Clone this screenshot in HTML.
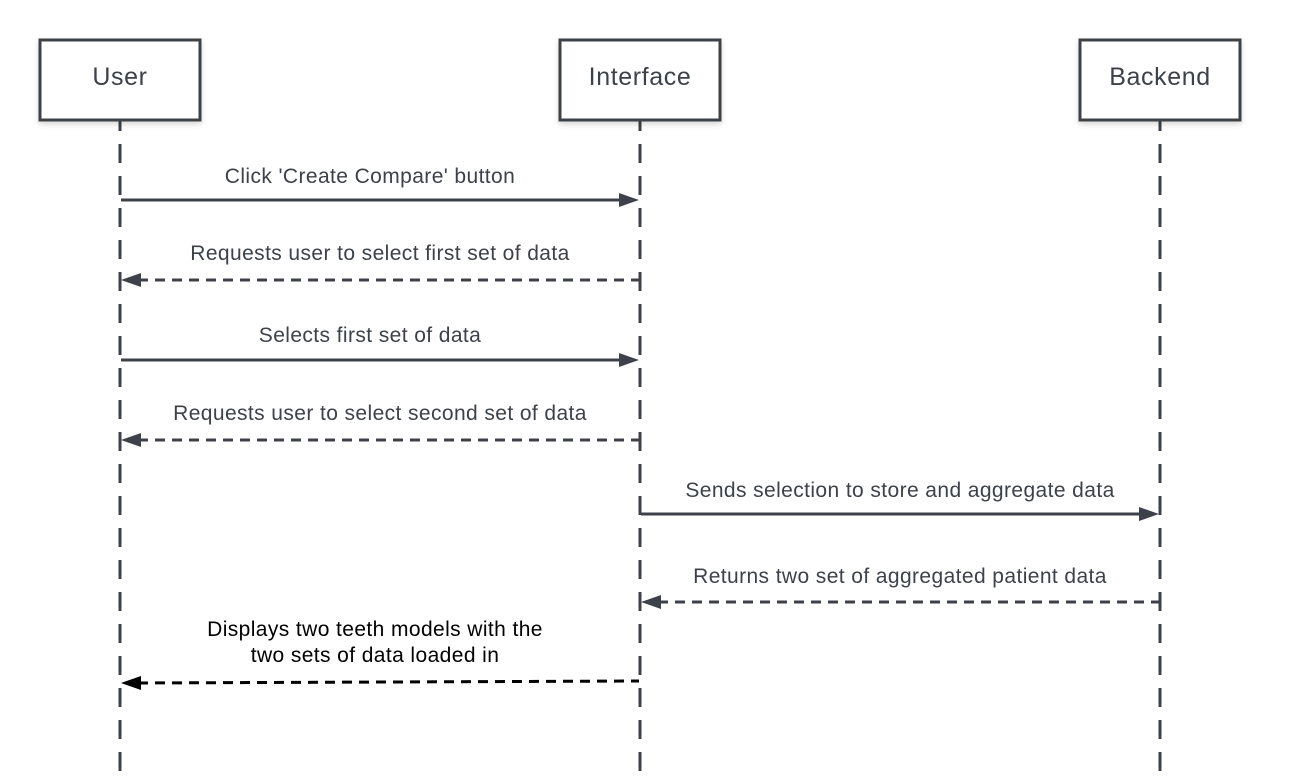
<!DOCTYPE html>
<html><head><meta charset="utf-8"><style>
html,body{margin:0;padding:0;background:#fff;}
svg{display:block;}
text{font-family:"Liberation Sans",sans-serif;}
</style></head><body>
<svg width="1292" height="784" viewBox="0 0 1292 784" xmlns="http://www.w3.org/2000/svg">
<defs>
<filter id="sh" x="-10%" y="-10%" width="130%" height="130%"><feDropShadow dx="0" dy="3" stdDeviation="3" flood-color="#000" flood-opacity="0.15"/></filter>
</defs>
<g stroke="#3d424a" stroke-width="3" stroke-dasharray="19 13" fill="none">
<line x1="120" y1="112" x2="120" y2="784"/>
<line x1="640" y1="112" x2="640" y2="784"/>
<line x1="1160" y1="112" x2="1160" y2="784"/>
</g>
<g fill="#fff" stroke="#3d424a" stroke-width="3" filter="url(#sh)">
<rect x="40" y="40" width="160" height="80"/>
<rect x="560" y="40" width="160" height="80"/>
<rect x="1080" y="40" width="160" height="80"/>
</g>
<g font-size="25" fill="#3d424a" text-anchor="middle" letter-spacing="0.6">
<text x="120" y="85">User</text>
<text x="640" y="85">Interface</text>
<text x="1160" y="85">Backend</text>
</g>
<g stroke="#3d424a" stroke-width="3" fill="none">
<line x1="121" y1="200" x2="622" y2="200"/>
<line x1="138" y1="280" x2="639" y2="280" stroke-dasharray="10 7"/>
<line x1="121" y1="360" x2="622" y2="360"/>
<line x1="138" y1="440" x2="639" y2="440" stroke-dasharray="10 7"/>
<line x1="641" y1="514" x2="1142" y2="514"/>
<line x1="658" y1="602" x2="1159" y2="602" stroke-dasharray="10 7"/>
<line x1="138" y1="683" x2="639" y2="681" stroke="#000" stroke-dasharray="10 7"/>
</g>
<g fill="#3d424a">
<polygon points="639,200 619,193 619,207"/>
<polygon points="121,280 141,273 141,287"/>
<polygon points="639,360 619,353 619,367"/>
<polygon points="121,440 141,433 141,447"/>
<polygon points="1159,514 1139,507 1139,521"/>
<polygon points="641,602 661,595 661,609"/>
<polygon points="121,683 141,676 141,690" fill="#000"/>
</g>
<g font-size="21" fill="#3d424a" text-anchor="middle" letter-spacing="0.4">
<text x="370" y="183">Click 'Create Compare' button</text>
<text x="380" y="260">Requests user to select first set of data</text>
<text x="370" y="342">Selects first set of data</text>
<text x="380" y="420">Requests user to select second set of data</text>
<text x="900" y="497">Sends selection to store and aggregate data</text>
<text x="900" y="583">Returns two set of aggregated patient data</text>
</g>
<g font-size="21" fill="#000" text-anchor="middle" letter-spacing="0.4">
<text x="375" y="636">Displays two teeth models with the</text>
<text x="375" y="662">two sets of data loaded in</text>
</g>
</svg>
</body></html>
